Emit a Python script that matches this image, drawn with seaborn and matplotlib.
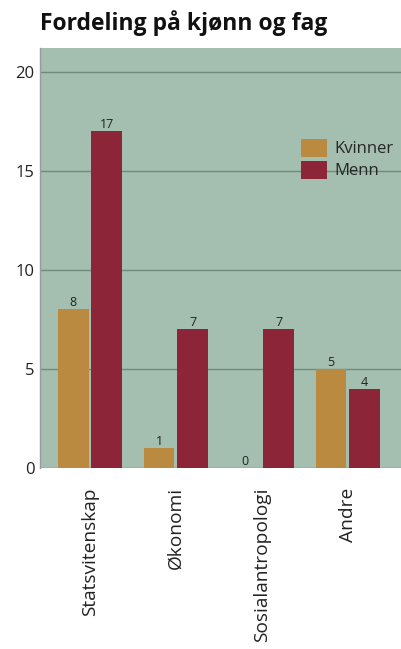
import pandas as pd
import matplotlib.pyplot as plt
import seaborn as sns

# data
fag = ["Statsvitenskap", "Økonomi", "Sosialantropologi", "Andre"]
kvinner = [8, 1, 0, 5]
menn = [17, 7, 7, 4]

df = pd.DataFrame({
    "fag": fag * 2,
    "kjonn": ["Kvinner"] * len(fag) + ["Menn"] * len(fag),
    "antall": kvinner + menn,
})

sns.set_style("white")
plt.rcParams["font.family"] = ["Open Sans", "DejaVu Sans"]

fig = plt.figure(figsize=(4.01, 6.49), dpi=100)
ax = fig.add_axes([0.0998, 0.279, 0.9002, 0.647])
ax.set_facecolor("#a4beb0")

farger = {"Kvinner": "#b98a40", "Menn": "#8d2539"}
sns.barplot(data=df, x="fag", y="antall", hue="kjonn", palette=farger,
            width=0.78, gap=0.08, ax=ax, saturation=1, zorder=3,
            edgecolor="none", linewidth=0)

for c in ax.containers:
    ax.bar_label(c, fmt="%d", fontsize=9, color="#222222", padding=0)

ax.set_ylim(0, 21.2)
ax.set_xlim(-0.58, 3.62)
ax.set_yticks([0, 5, 10, 15, 20])
ax.grid(axis="y", color="#6e8c7b", linewidth=1)
ax.set_axisbelow(True)
ax.tick_params(axis="y", length=0, labelsize=12, pad=4, colors="#222222")
ax.tick_params(axis="x", length=0, labelsize=13.8, pad=14, colors="#222222")
plt.setp(ax.get_xticklabels(), rotation=90)
ax.set_xlabel("")
ax.set_ylabel("")
for s in ["top", "right", "bottom"]:
    ax.spines[s].set_visible(False)
ax.spines["left"].set_color("#9a9a9a")
ax.spines["left"].set_linewidth(1)

ax.legend(title=None, frameon=False, loc="upper right",
          bbox_to_anchor=(1.02, 0.82), fontsize=12, handlelength=1.6,
          handleheight=1.3, handletextpad=0.4, labelspacing=0.2)

fig.text(0.0998, 0.964, "Fordeling på kjønn og fag", fontsize=16.5,
         fontweight="bold", color="#111111", va="center")

fig.savefig("out.png", dpi=100)
